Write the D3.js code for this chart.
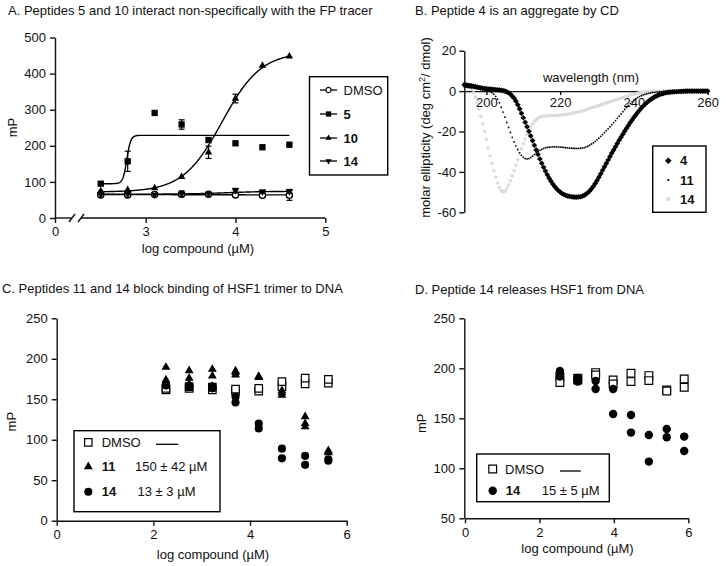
<!DOCTYPE html>
<html><head><meta charset="utf-8">
<script src="https://cdn.jsdelivr.net/npm/d3@7"></script>
<style>body{margin:0;background:#fff}</style>
</head><body>
<svg id="chart" width="726" height="566"></svg>
<script>
// ---------------- DATA ----------------
// Panel A: FP tracer
const aLogX = [2.5, 2.8, 3.1, 3.4, 3.7, 4.0, 4.3, 4.6];
const aDMSO = [64, 64, 65, 66, 66, 64, 63, 63];
const aDMSOErr = [0, 0, 0, 3, 0, 4, 5, 14];
const a5 = [95, 157, 291, 259, 216, 207, 196, 203];
const a5Err = [0, 28, 0, 13, 0, 0, 0, 0];
const a10 = [75, 78, 83, 114, 182, 331, 422, 448];
const a10Err = [0, 0, 0, 0, 17, 12, 0, 0];
const a14 = [65, 66, 65, 67, 67, 76, 73, 74];
const a14Err = [0, 0, 0, 8, 0, 6, 4, 5];
// fitted sigmoid parameters: bottom, top, logEC50, hill slope
const aFitDMSO = [65, 64, 3.5, 1];
const aFit5 = [95, 229, 2.79, 20];
const aFit10 = [72, 460, 3.85, 2];
const aFit14 = [66, 74, 3.9, 2];
const aXTicks = [0, 3, 4, 5];
const aYTicks = [0, 100, 200, 300, 400, 500];
const aLegend = ["DMSO", "5", "10", "14"];

// Panel B: CD spectra, wavelength grid start/step (nm)
const cdStart = 194, cdStep = 0.5;
const cd4 = [
 3.2,3.0,2.8,2.7,2.6,2.4,2.2,2.0,1.8,1.6,
 1.4,1.3,1.2,1.0,1.0,0.9,0.8,0.7,0.6,0.5,
 0.4,0.2,0.0,-0.4,-0.8,-1.5,-2.5,-3.6,-5.0,-6.8,
 -8.8,-11.0,-13.2,-15.4,-17.6,-19.9,-22.2,-24.5,-26.8,-29.1,
 -31.4,-33.6,-35.7,-37.7,-39.6,-41.4,-43.1,-44.6,-46.0,-47.2,
 -48.3,-49.2,-50.0,-50.7,-51.2,-51.6,-51.9,-52.1,-52.3,-52.4,
 -52.5,-52.5,-52.4,-52.3,-52.0,-51.6,-51.0,-50.3,-49.4,-48.3,
 -47.1,-45.7,-44.2,-42.6,-40.9,-39.2,-37.5,-35.8,-34.1,-32.4,
 -30.7,-29.1,-27.5,-25.9,-24.3,-22.8,-21.3,-19.8,-18.4,-17.0,
 -15.6,-14.3,-13.0,-11.8,-10.6,-9.5,-8.4,-7.4,-6.5,-5.7,
 -4.9,-4.2,-3.6,-3.0,-2.5,-2.1,-1.7,-1.4,-1.1,-0.9,
 -0.7,-0.6,-0.5,-0.4,-0.3,-0.3,-0.2,-0.2,-0.1,-0.1,
 0,0,0,0,0,0,0,0,0,0,
 0,0,0];
const cd11 = [
 2.0,1.9,1.8,1.7,1.6,1.5,1.4,1.2,1.0,0.8,
 0.6,0.4,0.2,0.0,-0.3,-0.8,-1.5,-2.6,-4.0,-5.8,
 -8.0,-10.4,-12.9,-15.5,-18.0,-20.5,-22.9,-25.1,-27.1,-28.9,
 -30.5,-31.8,-32.8,-33.4,-33.6,-33.4,-32.9,-32.2,-31.4,-30.6,
 -29.9,-29.3,-28.8,-28.4,-28.1,-27.9,-27.8,-27.7,-27.6,-27.6,
 -27.6,-27.7,-27.7,-27.8,-27.9,-28.0,-28.1,-28.2,-28.3,-28.3,
 -28.4,-28.4,-28.4,-28.3,-28.2,-28.0,-27.7,-27.3,-26.8,-26.2,
 -25.6,-24.9,-24.1,-23.3,-22.4,-21.5,-20.6,-19.6,-18.6,-17.6,
 -16.6,-15.6,-14.6,-13.5,-12.4,-11.3,-10.2,-9.1,-8.1,-7.1,
 -6.2,-5.3,-4.5,-3.8,-3.2,-2.7,-2.3,-1.9,-1.6,-1.3,
 -1.1,-0.9,-0.7,-0.6,-0.5,-0.4,-0.3,-0.3,-0.2,-0.2,
 -0.1,-0.1,0,0,0,0,0,0,0,0,
 0,0,0,0,0,0,0,0,0,0,
 0,0,0];
const cd14 = [
 3.0,2.8,2.4,1.8,0.8,-0.8,-3.0,-5.8,-9.0,-12.5,
 -16.2,-20.0,-24.0,-28.0,-32.0,-35.8,-39.4,-42.7,-45.5,-47.8,
 -49.4,-50.0,-49.6,-48.4,-46.6,-44.4,-41.9,-39.3,-36.6,-33.9,
 -31.2,-28.6,-26.1,-23.7,-21.5,-19.5,-17.8,-16.3,-15.1,-14.1,
 -13.4,-12.9,-12.6,-12.4,-12.3,-12.2,-12.2,-12.2,-12.1,-12.1,
 -12.0,-12.0,-11.9,-11.8,-11.7,-11.6,-11.5,-11.3,-11.1,-10.9,
 -10.7,-10.5,-10.3,-10.0,-9.8,-9.5,-9.2,-8.9,-8.6,-8.3,
 -8.0,-7.7,-7.4,-7.1,-6.8,-6.5,-6.2,-5.9,-5.6,-5.3,
 -5.0,-4.7,-4.4,-4.1,-3.8,-3.5,-3.2,-2.9,-2.6,-2.3,
 -2.0,-1.8,-1.5,-1.3,-1.1,-0.9,-0.7,-0.6,-0.5,-0.4,
 -0.3,-0.2,-0.1,0,0,0,0,0,0,0,
 0,0,0,0,0,0,0,0,0,0,
 0,0,0,0,0,0,0,0,0,0,
 0,0,0];
const bXTicks = [200, 220, 240, 260];
const bYTicks = [20, 0, -20, -40, -60];
const bLegend = ["4", "11", "14"];

// Panel C: HSF1 trimer binding (replicates)
const cLogX = [2.26, 2.74, 3.22, 3.70, 4.18, 4.66, 5.14, 5.62];
const cDMSO1 = [161.5, 163.5, 161.5, 160, 160, 165.6, 169, 170];
const cDMSO2 = [163.5, 165.6, 165, 162.5, 163.5, 171.8, 176, 174.6];
const c11a = [189.5, 185.4, 187, 185, 178, 160.6, 128.5, 86.5];
const c11b = [174, 176, 178.8, 180, 178, 155, 116, 84];
const c11c = [170, 169, 166, 183, 177, 158, 120, 85];
const c14a = [168, 166, 165.6, 153, 120, 89, 80, 75.8];
const c14b = [167, 165, 163.5, 146, 114, 77, 69, 74];
const cXTicks = [0, 2, 4, 6];
const cYTicks = [0, 50, 100, 150, 200, 250];

// Panel D: HSF1 release (replicates)
const dLogX = [2.55, 3.03, 3.51, 3.98, 4.46, 4.94, 5.42, 5.89];
const dDMSO1 = [191.7, 190, 195.7, 188.3, 195, 192.7, 178.3, 189.3];
const dDMSO2 = [185.7, 188.3, 193.3, 184.3, 186.7, 187.7, 177.3, 181];
const d14a = [197.3, 190, 187.3, 179.3, 153.3, 133.3, 139.3, 131.7];
const d14b = [191.7, 186.7, 179.3, 154.3, 135.7, 106.7, 131, 117.3];
const dXTicks = [0, 2, 4, 6];
const dYTicks = [50, 100, 150, 200, 250];

// ---------------- HELPERS ----------------
const FF = '"Liberation Sans", Arial, Helvetica, sans-serif';
const INK = '#000';
const GREY = '#dcdcdc';
const svg = d3.select('#chart');
const fmtInt = d3.format('d');

function addText(g, x, y, str, o = {}) {
  const t = g.append('text').attr('x', x).attr('y', y).text(str)
    .attr('font-size', o.size || 13).attr('font-family', FF).attr('fill', o.fill || '#111')
    .attr('text-anchor', o.anchor || 'start');
  if (o.bold) t.attr('font-weight', 'bold');
  if (o.rotate) t.attr('transform', `rotate(-90 ${x} ${y})`);
  return t;
}
function styleAxis(g) {
  g.selectAll('path, line').attr('stroke', '#111').attr('stroke-width', 1.4);
  g.selectAll('text').attr('font-size', 13).attr('font-family', FF).attr('fill', '#111');
}
function mark(g, type, x, y, size, o = {}) {
  return g.append('path').attr('d', d3.symbol(type, size)())
    .attr('transform', `translate(${x},${y}) rotate(${o.rot || 0})`)
    .attr('fill', o.fill || INK).attr('stroke', o.stroke || 'none').attr('stroke-width', o.sw || 1);
}
function sigmoid(p, x) { return p[0] + (p[1] - p[0]) / (1 + Math.pow(10, (p[2] - x) * p[3])); }

// ---------------- PANEL A ----------------
{
  const g = svg.append('g');
  addText(g, 8, 15, 'A. Peptides 5 and 10 interact non-specifically with the FP tracer');
  const x = d3.scaleLinear().domain([0, 0.19, 2.28, 5]).range([55, 72, 81, 325.3]);
  const y = d3.scaleLinear().domain([0, 500]).range([218, 37.5]);
  const ay = g.append('g').attr('transform', `translate(${x(0)},0)`)
    .call(d3.axisLeft(y).tickValues(aYTicks).tickSize(5).tickPadding(4).tickSizeOuter(0));
  styleAxis(ay);
  const ax = g.append('g').attr('transform', `translate(0,${y(0)})`)
    .call(d3.axisBottom(x).tickValues(aXTicks).tickFormat(fmtInt).tickSize(5).tickPadding(4).tickSizeOuter(0));
  ax.select('.domain').remove();
  [[0, 0.19], [2.28, 5]].forEach(([a, b]) => ax.append('line').attr('x1', x(a)).attr('x2', x(b)).attr('y1', 0).attr('y2', 0));
  [0.19, 2.28].forEach(v => ax.append('line').attr('x1', x(v) - 3).attr('y1', 4).attr('x2', x(v) + 3).attr('y2', -4));
  styleAxis(ax);
  addText(g, 198, 253, 'log compound (µM)', { anchor: 'middle' });
  addText(g, 16.5, 127.5, 'mP', { anchor: 'middle', rotate: true });

  const xs = d3.range(aLogX[0], aLogX[aLogX.length - 1] + 0.0001, 0.004);
  const line = d3.line().x(d => x(d[0])).y(d => y(d[1]));
  [aFitDMSO, aFit14, aFit10, aFit5].forEach(p => {
    g.append('path').attr('d', line(xs.map(v => [v, sigmoid(p, v)])))
      .attr('fill', 'none').attr('stroke', INK).attr('stroke-width', 1.4);
  });
  const series = [
    { v: aDMSO, e: aDMSOErr, type: d3.symbolCircle, size: 30, fill: '#fff', stroke: INK, rot: 0 },
    { v: a14, e: a14Err, type: d3.symbolTriangle, size: 24, fill: INK, rot: 180 },
    { v: a10, e: a10Err, type: d3.symbolTriangle, size: 24, fill: INK, rot: 0 },
    { v: a5, e: a5Err, type: d3.symbolSquare, size: 40, fill: INK, rot: 0 }
  ];
  series.forEach(s => {
    s.v.forEach((val, i) => {
      const cx = x(aLogX[i]);
      if (s.e[i] > 0) {
        const y1 = y(val - s.e[i]), y2 = y(val + s.e[i]);
        g.append('line').attr('x1', cx).attr('x2', cx).attr('y1', y1).attr('y2', y2).attr('stroke', INK).attr('stroke-width', 1.2);
        [y1, y2].forEach(yy => g.append('line').attr('x1', cx - 3).attr('x2', cx + 3).attr('y1', yy).attr('y2', yy).attr('stroke', INK).attr('stroke-width', 1.2));
      }
      mark(g, s.type, cx, y(val), s.size, { fill: s.fill, stroke: s.stroke, sw: 1.3, rot: s.rot });
    });
  });
  // legend
  const lg = g.append('g');
  lg.append('rect').attr('x', 309.5).attr('y', 76.7).attr('width', 78.2).attr('height', 98.3)
    .attr('fill', '#fff').attr('stroke', INK).attr('stroke-width', 1.4);
  const rowsY = [90, 114, 138, 161];
  const legSym = [series[0], series[3], series[2], series[1]];
  aLegend.forEach((name, i) => {
    lg.append('line').attr('x1', 320).attr('x2', 337).attr('y1', rowsY[i]).attr('y2', rowsY[i]).attr('stroke', INK).attr('stroke-width', 1.3);
    const s = legSym[i];
    mark(lg, s.type, 328.5, rowsY[i], s.size * 0.7, { fill: s.fill, stroke: s.stroke, sw: 1.2, rot: s.rot });
    addText(lg, 343.5, rowsY[i] + 4.6, name, { bold: i > 0 });
  });
}

// ---------------- PANEL B ----------------
{
  const g = svg.append('g');
  addText(g, 415, 15, 'B. Peptide 4 is an aggregate by CD');
  const x = d3.scaleLinear().domain([194, 260]).range([464.3, 707.7]);
  const y = d3.scaleLinear().domain([-60, 20]).range([212.3, 50.7]);
  const ay = g.append('g').attr('transform', `translate(${x(194)},0)`)
    .call(d3.axisLeft(y).tickValues(bYTicks).tickFormat(d => d < 0 ? '-' + Math.abs(d) : d).tickSize(5).tickPadding(3).tickSizeOuter(0));
  styleAxis(ay);
  const ax = g.append('g').attr('transform', `translate(0,${y(0)})`)
    .call(d3.axisBottom(x).tickValues(bXTicks).tickSize(4).tickPadding(3).tickSizeOuter(0));
  styleAxis(ax);
  addText(g, 591, 82, 'wavelength (nm)', { anchor: 'middle' });
  const yl = addText(g, 430, 127.5, 'molar ellipticity (deg cm', { anchor: 'middle', rotate: true });
  yl.append('tspan').attr('dy', -5).attr('font-size', 9).text('2');
  yl.append('tspan').attr('dy', 5).text('/ dmol)');

  const wl = i => cdStart + i * cdStep;
  const sg = g.append('g');
  cd14.forEach((v, i) => sg.append('circle').attr('cx', x(wl(i))).attr('cy', y(v)).attr('r', 1.8).attr('fill', GREY));
  cd11.forEach((v, i) => sg.append('circle').attr('cx', x(wl(i))).attr('cy', y(v)).attr('r', 0.9).attr('fill', INK));
  cd4.forEach((v, i) => mark(sg, d3.symbolSquare, x(wl(i)), y(v), 16, { rot: 45 }));

  const lg = g.append('g');
  lg.append('rect').attr('x', 652.7).attr('y', 146).attr('width', 53.3).attr('height', 66.3)
    .attr('fill', '#fff').attr('stroke', INK).attr('stroke-width', 1.4);
  const rowsY = [160.7, 180, 199];
  mark(lg, d3.symbolSquare, 668.3, rowsY[0], 22, { rot: 45 });
  lg.append('circle').attr('cx', 668.3).attr('cy', rowsY[1]).attr('r', 1.1).attr('fill', INK);
  lg.append('circle').attr('cx', 668.3).attr('cy', rowsY[2]).attr('r', 2.2).attr('fill', GREY);
  bLegend.forEach((name, i) => addText(lg, 680, rowsY[i] + 4.6, name, { bold: true }));
}

// ---------------- PANEL C ----------------
{
  const g = svg.append('g');
  addText(g, 2, 293, 'C. Peptides 11 and 14 block binding of HSF1 trimer to DNA');
  const x = d3.scaleLinear().domain([0, 6]).range([56.7, 346.7]);
  const y = d3.scaleLinear().domain([0, 250]).range([520.7, 318.3]);
  const ay = g.append('g').attr('transform', `translate(${x(0)},0)`)
    .call(d3.axisLeft(y).tickValues(cYTicks).tickSize(5).tickPadding(4).tickSizeOuter(0));
  styleAxis(ay);
  const ax = g.append('g').attr('transform', `translate(0,${y(0)})`)
    .call(d3.axisBottom(x).tickValues(cXTicks).tickFormat(fmtInt).tickSize(5).tickPadding(4).tickSizeOuter(0));
  styleAxis(ax);
  addText(g, 213, 558.5, 'log compound (µM)', { anchor: 'middle' });
  addText(g, 16.5, 421.7, 'mP', { anchor: 'middle', rotate: true });

  [cDMSO1, cDMSO2].forEach(arr => arr.forEach((v, i) =>
    mark(g, d3.symbolSquare, x(cLogX[i]), y(v), 56, { fill: '#fff', stroke: INK, sw: 1.2 })));
  [c11a, c11b, c11c].forEach(arr => arr.forEach((v, i) =>
    mark(g, d3.symbolTriangle, x(cLogX[i]), y(v), 34)));
  [c14a, c14b].forEach(arr => arr.forEach((v, i) =>
    mark(g, d3.symbolCircle, x(cLogX[i]), y(v), 52)));

  const lg = g.append('g');
  lg.append('rect').attr('x', 74).attr('y', 430.7).attr('width', 146).attr('height', 81)
    .attr('fill', '#fff').attr('stroke', INK).attr('stroke-width', 1.4);
  const rowsY = [442.3, 466.7, 491.7];
  mark(lg, d3.symbolSquare, 88.3, rowsY[0], 56, { fill: '#fff', stroke: INK, sw: 1.2 });
  mark(lg, d3.symbolTriangle, 88.3, rowsY[1], 34);
  mark(lg, d3.symbolCircle, 88.3, rowsY[2], 52);
  addText(lg, 101.7, rowsY[0] + 4.6, 'DMSO');
  lg.append('line').attr('x1', 156).attr('x2', 178.3).attr('y1', rowsY[0] + 2).attr('y2', rowsY[0] + 2).attr('stroke', INK).attr('stroke-width', 1.3);
  addText(lg, 101.7, rowsY[1] + 4.6, '11', { bold: true });
  addText(lg, 135, rowsY[1] + 4.6, '150 ± 42 µM');
  addText(lg, 101.7, rowsY[2] + 4.6, '14', { bold: true });
  addText(lg, 137.5, rowsY[2] + 4.6, '13 ± 3 µM');
}

// ---------------- PANEL D ----------------
{
  const g = svg.append('g');
  addText(g, 415, 294, 'D. Peptide 14 releases HSF1 from DNA');
  const x = d3.scaleLinear().domain([0, 6]).range([465, 688.3]);
  const y = d3.scaleLinear().domain([50, 250]).range([518.3, 318.3]);
  const ay = g.append('g').attr('transform', `translate(${x(0) - 0.7},0)`)
    .call(d3.axisLeft(y).tickValues(dYTicks).tickSize(5).tickPadding(4).tickSizeOuter(0));
  styleAxis(ay);
  const ax = g.append('g').attr('transform', `translate(0,${y(50)})`)
    .call(d3.axisBottom(x).tickValues(dXTicks).tickFormat(fmtInt).tickSize(5).tickPadding(4).tickSizeOuter(0));
  styleAxis(ax);
  addText(g, 577.5, 552.5, 'log compound (µM)', { anchor: 'middle' });
  addText(g, 426.5, 423.3, 'mP', { anchor: 'middle', rotate: true });

  [dDMSO1, dDMSO2].forEach(arr => arr.forEach((v, i) =>
    mark(g, d3.symbolSquare, x(dLogX[i]), y(v), 60, { fill: '#fff', stroke: INK, sw: 1.2 })));
  [d14a, d14b].forEach(arr => arr.forEach((v, i) =>
    mark(g, d3.symbolCircle, x(dLogX[i]), y(v), 56)));

  const lg = g.append('g');
  lg.append('rect').attr('x', 476.7).attr('y', 454).attr('width', 132.6).attr('height', 47.7)
    .attr('fill', '#fff').attr('stroke', INK).attr('stroke-width', 1.4);
  const rowsY = [469, 490.7];
  mark(lg, d3.symbolSquare, 492.7, rowsY[0], 60, { fill: '#fff', stroke: INK, sw: 1.2 });
  mark(lg, d3.symbolCircle, 492.7, rowsY[1], 56);
  addText(lg, 505, rowsY[0] + 4.6, 'DMSO');
  lg.append('line').attr('x1', 560).attr('x2', 580.7).attr('y1', rowsY[0] + 2).attr('y2', rowsY[0] + 2).attr('stroke', INK).attr('stroke-width', 1.3);
  addText(lg, 505.7, rowsY[1] + 4.6, '14', { bold: true });
  addText(lg, 541.7, rowsY[1] + 4.6, '15 ± 5 µM');
}
</script>
</body></html>
